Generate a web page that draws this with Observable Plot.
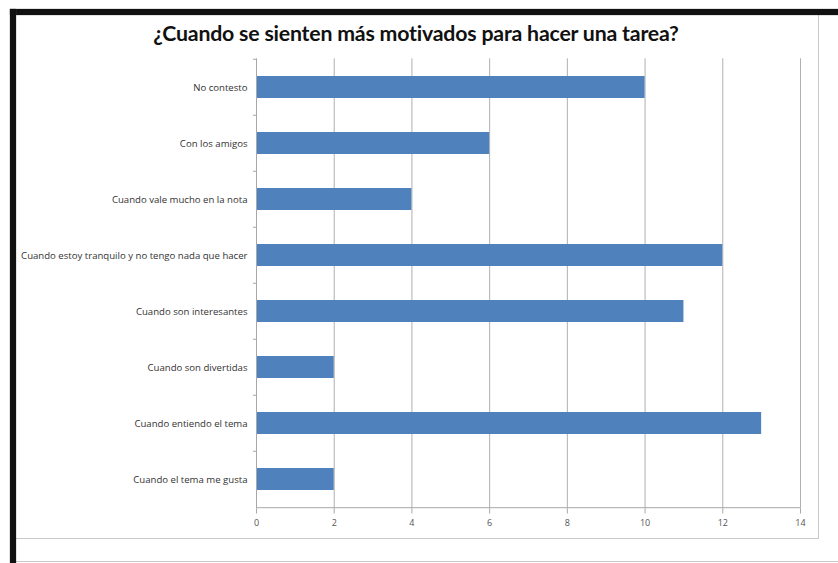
<!DOCTYPE html>
<html>
<head>
<meta charset="utf-8">
<script src="https://cdn.jsdelivr.net/npm/d3@7"></script>
<script src="https://cdn.jsdelivr.net/npm/@observablehq/plot@0.6"></script>
<style>
  html, body { margin: 0; padding: 0; background: #fff; }
  #wrap { position: relative; width: 838px; height: 563px; overflow: hidden; background: #fff; }
  #wrap svg { position: absolute; left: 0; top: 0; }
  .bt { position: absolute; left: 10px; top: 9px; width: 828px; height: 6px; background: #111; box-shadow: 0 0 1px #555; }
  .bl { position: absolute; left: 10px; top: 9px; width: 6px; height: 554px; background: #111; box-shadow: 0 0 1px #555; }
  .fr { position: absolute; left: 16px; top: 15px; width: 802px; height: 523px; border-right: 1px solid #c8c8c8; border-bottom: 1px solid #c8c8c8; }
  .fb { position: absolute; left: 16px; top: 561px; width: 822px; height: 1px; background: #c8c8c8; }
  #title { position: absolute; left: 0; top: 20px; width: 832px; text-align: center; font-family: Lato, "Open Sans", sans-serif; font-weight: bold; font-size: 21.3px; color: #111; letter-spacing: -0.2px; }
</style>
</head>
<body>
<div id="wrap">
  <div class="fr"></div>
  <div class="fb"></div>
  <div class="bt"></div>
  <div class="bl"></div>
  <div id="title">¿Cuando se sienten más motivados para hacer una tarea?</div>
</div>
<script>
const categories = [
  "No contesto",
  "Con los amigos",
  "Cuando vale mucho en la nota",
  "Cuando estoy tranquilo y no tengo nada que hacer",
  "Cuando son interesantes",
  "Cuando son divertidas",
  "Cuando entiendo el tema",
  "Cuando el tema me gusta"
];
const values = [10, 6, 4, 12, 11, 2, 13, 2];
const xTicks = [0, 2, 4, 6, 8, 10, 12, 14];

const data = categories.map((c, i) => ({category: c, value: values[i]}));

const chart = Plot.plot({
  width: 838,
  height: 563,
  marginLeft: 256,
  marginRight: 38,
  marginTop: 58.3,
  marginBottom: 54.5,
  style: {fontFamily: "'Open Sans', sans-serif", fontSize: "9.6px", color: "#333", background: "transparent", overflow: "visible"},
  x: {domain: [0, 14], ticks: xTicks, label: null},
  y: {domain: categories, paddingInner: 0.61, paddingOuter: 0.305, label: null},
  marks: [
    Plot.ruleX(xTicks.filter(d => d > 0), {stroke: "#b0b0b0", strokeWidth: 1}),
    Plot.barX(data, {y: "category", x: "value", fill: "#4f81bd"}),
    Plot.ruleX([0], {stroke: "#a8a8a8", strokeWidth: 1}),
    Plot.ruleY(categories, {y: d => d, x1: -0.08, x2: 0, dy: -28.2, stroke: "#a8a8a8"}),
    Plot.ruleY([categories[categories.length - 1]], {y: d => d, x1: 0, x2: 14, dy: 28.2, stroke: "#a8a8a8"}),
    Plot.axisX({ticks: xTicks, tickSize: 5, tickPadding: 6, stroke: "#a8a8a8", fill: "#555", label: null, fontSize: 9}),
    Plot.axisY({tickSize: 0, tickPadding: 9, fill: "#333", label: null, fontSize: 9.6})
  ]
});
document.getElementById("wrap").insertBefore(chart, document.getElementById("title"));
</script>
</body>
</html>
